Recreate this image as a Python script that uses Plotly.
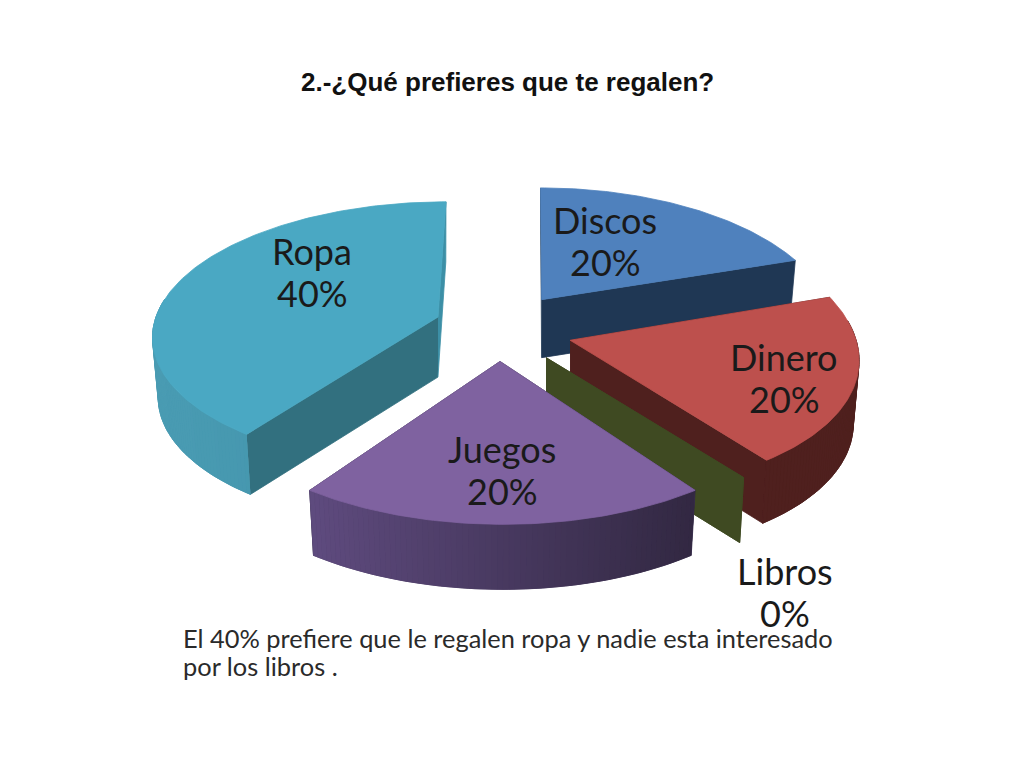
"""
2.-¿Qué prefieres que te regalen? -- exploded 3D pie drawn with filled scatter traces
"""
import numpy as np
import plotly.graph_objects as go

# Data ---
categories = ["Discos", "Dinero", "Libros", "Juegos", "Ropa"]
values = [20, 20, 0, 20, 40]

title_text = "2.-¿Qué prefieres que te regalen?"
note_lines = ["El 40% prefiere que le regalen ropa y nadie esta interesado", "por los libros ."]

# Styles ---
top_colors = ["#4f81bd", "#bd504d", "#4b5a28", "#7f62a0", "#4aa8c3"]
start_face_colors = ["#1f3a56", "#4f201e", "#3f4a22", "#2f2642", "#32707f"]
end_face_colors = ["#1f3754", "#4f201e", "#3f4a22", "#2f2642", "#3c8fa6"]
side_left_colors = ["#1f3a56", "#4f201e", "#3f4a22", "#5f4b7f", "#4a9cb3"]
side_right_colors = ["#1f3a56", "#4f201e", "#3f4a22", "#322842", "#3f90a8"]
draw_order = ["Ropa", "Discos", "Dinero", "Libros", "Juegos"]
label_pos = {"Discos": (605, 241), "Dinero": (784, 378), "Libros": (785, 592),
             "Juegos": (502, 470), "Ropa": (312, 272)}

# Projection of the pie plane onto the page, in pixels
CX, CY = 502, 327
K, B, A = 285, 136, 0.217
EXPLODE = 0.24
BOTTOM_SCALE = 0.98
LABEL_FONT = "Lato"
TEXT_FONT = "Lato"

# Per-slice tweaks of the projection, same order as categories
slice_k = [285, 286, 288, 300, 282]
slice_b = [136, 141.5, 141.5, 145.8, 130]
slice_a = [0.217, 0.057, 0.057, 0.105, 0.128]
slice_c = [-1, -25, -25, -3, 8]
slice_depth = [58, 63, 65, 65, 60]
apex_dx = [1, 2, 2, -2, 0]
apex_dy = [-2, 3, 3, 0, 0]


def local(angle, radius=1.0, k=K, b=B, a=A, c=0):
    """Project a point given clockwise from the top (radians) relative to its slice apex."""
    u, v = radius * np.sin(angle), radius * np.cos(angle)
    w = 1 + a * v
    return k * u / w + c * v, -b * v / w


def mix(c1, c2, t):
    rgb1 = np.array([int(c1[i:i + 2], 16) for i in (1, 3, 5)])
    rgb2 = np.array([int(c2[i:i + 2], 16) for i in (1, 3, 5)])
    r, g, b = (rgb1 + (rgb2 - rgb1) * t).round().astype(int)
    return f"rgb({r},{g},{b})"


def poly(fig, xs, ys, color):
    fig.add_trace(go.Scatter(
        x=xs, y=ys, mode="lines", fill="toself", fillcolor=color,
        line=dict(color=color, width=0.8), hoverinfo="skip", showlegend=False,
    ))


def draw_slice(fig, i, start, end):
    mid = (start + end) / 2
    ax, ay = local(mid, EXPLODE)
    ax, ay = CX + ax + apex_dx[i], CY + ay + apex_dy[i]
    depth = slice_depth[i]

    angles = np.linspace(start, end, max(2, int(np.degrees(end - start)) + 1))
    pts = [local(t, 1.0, slice_k[i], slice_b[i], slice_a[i], slice_c[i]) for t in angles]
    lx, ly = np.array([p[0] for p in pts]), np.array([p[1] for p in pts])
    top_x, top_y = ax + lx, ay + ly
    bot_x, bot_y = ax + lx * BOTTOM_SCALE, ay + ly + depth

    # cut faces
    poly(fig, [ax, top_x[0], bot_x[0], ax], [ay, top_y[0], bot_y[0], ay + depth], start_face_colors[i])
    poly(fig, [ax, top_x[-1], bot_x[-1], ax], [ay, top_y[-1], bot_y[-1], ay + depth], end_face_colors[i])

    # outer wall, only the part that faces the viewer, shaded from left to right
    front = np.where(np.cos(angles) <= 0.15)[0]
    if len(front) > 1 and end > start:
        j0, j1 = front[0], front[-1] + 1
        poly(fig, [*top_x[j0:j1], *bot_x[j0:j1][::-1]], [*top_y[j0:j1], *bot_y[j0:j1][::-1]],
             mix(side_left_colors[i], side_right_colors[i], 0.5))
        span = max(top_x.max() - top_x.min(), 1)
        for j in range(j0, j1 - 1):
            t = (top_x[j] - top_x.min()) / span
            poly(fig, [top_x[j], top_x[j + 1], bot_x[j + 1], bot_x[j]],
                 [top_y[j], top_y[j + 1], bot_y[j + 1], bot_y[j]],
                 mix(side_left_colors[i], side_right_colors[i], t))

    # top face
    if end > start:
        poly(fig, [ax, *top_x, ax], [ay, *top_y, ay], top_colors[i])


fig = go.Figure()

total = sum(values)
edges = np.cumsum([0] + values) / total * 2 * np.pi
for name in draw_order:
    i = categories.index(name)
    draw_slice(fig, i, edges[i], edges[i + 1])

for name, value in zip(categories, values):
    x, y = label_pos[name]
    fig.add_annotation(x=x, y=y - 21, text=name, showarrow=False,
                       font=dict(family=LABEL_FONT, size=36, color="#1a1a1a"))
    fig.add_annotation(x=x, y=y + 21, text=f"{value / total:.0%}", showarrow=False,
                       font=dict(family=LABEL_FONT, size=36, color="#1a1a1a"))

fig.add_annotation(x=507.5, y=82, text=f"<b>{title_text}</b>", showarrow=False,
                   font=dict(family="Liberation Sans", size=26, color="#111111"))
for line, y in zip(note_lines, (638, 666)):
    fig.add_annotation(x=181, y=y, text=line, showarrow=False, xanchor="left",
                       font=dict(family=TEXT_FONT, size=25.4, color="#2a2a2a"))

fig.update_xaxes(range=[0, 1024], visible=False)
fig.update_yaxes(range=[768, 0], visible=False)
fig.update_layout(
    width=1024, height=768,
    margin=dict(l=0, r=0, t=0, b=0),
    plot_bgcolor="white", paper_bgcolor="white",
)

# the page's default body margin would push the figure 8px off
fig.write_html("out.html", config={"displayModeBar": False},
               post_script="document.body.style.margin='0';")
